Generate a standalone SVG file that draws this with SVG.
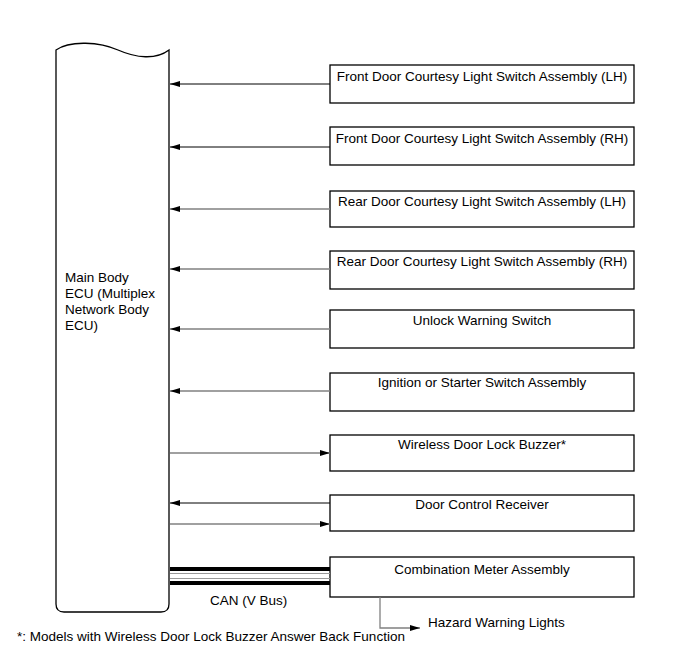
<svg xmlns="http://www.w3.org/2000/svg" width="691" height="660" viewBox="0 0 691 660">
<style>
text{font-family:"Liberation Sans",Arial,sans-serif;font-size:13.5px;fill:#000}
.box{fill:#fff;stroke:#000;stroke-width:1.3}
.bl{stroke:#000;stroke-width:1;fill:none}
.gr{stroke:#808080;stroke-width:1.3;fill:none}
.c{text-anchor:middle}
</style>
<defs>
<marker id="ah" markerWidth="10" markerHeight="6" refX="10" refY="3" orient="auto" markerUnits="userSpaceOnUse"><path d="M0,0 L10,3 L0,6 Z" fill="#000"/></marker>
</defs>
<rect width="691" height="660" fill="#fff"/>
<g id="ecu">
<path class="box" d="M56,50 C70,40 100,42 118,50 C136,58 156,60 169,50 L169,604 Q169,612 161,612 L64,612 Q56,612 56,604 Z"/>
<text x="65" y="282">Main Body</text>
<text x="65" y="298">ECU (Multiplex</text>
<text x="65" y="314">Network Body</text>
<text x="65" y="330">ECU)</text>
</g>
<g id="n1"><rect class="box" x="330" y="65" width="304" height="38"/><text class="c" x="482" y="81">Front Door Courtesy Light Switch Assembly (LH)</text></g>
<g id="n2"><rect class="box" x="330" y="127" width="304" height="38"/><text class="c" x="482" y="143">Front Door Courtesy Light Switch Assembly (RH)</text></g>
<g id="n3"><rect class="box" x="330" y="191" width="304" height="36"/><text class="c" x="482" y="206">Rear Door Courtesy Light Switch Assembly (LH)</text></g>
<g id="n4"><rect class="box" x="330" y="251" width="304" height="38"/><text class="c" x="482" y="266">Rear Door Courtesy Light Switch Assembly (RH)</text></g>
<g id="n5"><rect class="box" x="330" y="310" width="304" height="38"/><text class="c" x="482" y="325">Unlock Warning Switch</text></g>
<g id="n6"><rect class="box" x="330" y="373" width="304" height="38"/><text class="c" x="482" y="387">Ignition or Starter Switch Assembly</text></g>
<g id="n7"><rect class="box" x="330" y="435" width="304" height="36"/><text class="c" x="482" y="449">Wireless Door Lock Buzzer*</text></g>
<g id="n8"><rect class="box" x="330" y="495" width="304" height="36"/><text class="c" x="482" y="509">Door Control Receiver</text></g>
<g id="n9"><rect class="box" x="330" y="557" width="304" height="40"/><text class="c" x="482" y="574">Combination Meter Assembly</text></g>
<g id="connectors">
<line class="bl" x1="330" y1="84" x2="170" y2="84" marker-end="url(#ah)"/>
<line class="bl" x1="330" y1="147" x2="170" y2="147" marker-end="url(#ah)"/>
<line class="gr" x1="330" y1="209" x2="170" y2="209" marker-end="url(#ah)"/>
<line class="gr" x1="330" y1="269" x2="170" y2="269" marker-end="url(#ah)"/>
<line class="gr" x1="330" y1="329" x2="170" y2="329" marker-end="url(#ah)"/>
<line class="gr" x1="330" y1="391" x2="170" y2="391" marker-end="url(#ah)"/>
<line class="gr" x1="170" y1="453" x2="330" y2="453" marker-end="url(#ah)"/>
<line class="bl" x1="330" y1="503" x2="170" y2="503" marker-end="url(#ah)"/>
<line class="gr" x1="170" y1="524" x2="330" y2="524" marker-end="url(#ah)"/>
<line x1="170" y1="569" x2="330" y2="569" stroke="#000" stroke-width="4"/>
<line x1="170" y1="573.5" x2="330" y2="573.5" stroke="#999" stroke-width="1"/>
<line x1="170" y1="578.5" x2="330" y2="578.5" stroke="#999" stroke-width="1"/>
<line x1="170" y1="583" x2="330" y2="583" stroke="#000" stroke-width="4"/>
<polyline class="gr" points="380,597 380,628 420,628" marker-end="url(#ah)"/>
</g>
<text x="210" y="605">CAN (V Bus)</text>
<text x="428" y="627">Hazard Warning Lights</text>
<text x="17" y="641">*: Models with Wireless Door Lock Buzzer Answer Back Function</text>
</svg>
